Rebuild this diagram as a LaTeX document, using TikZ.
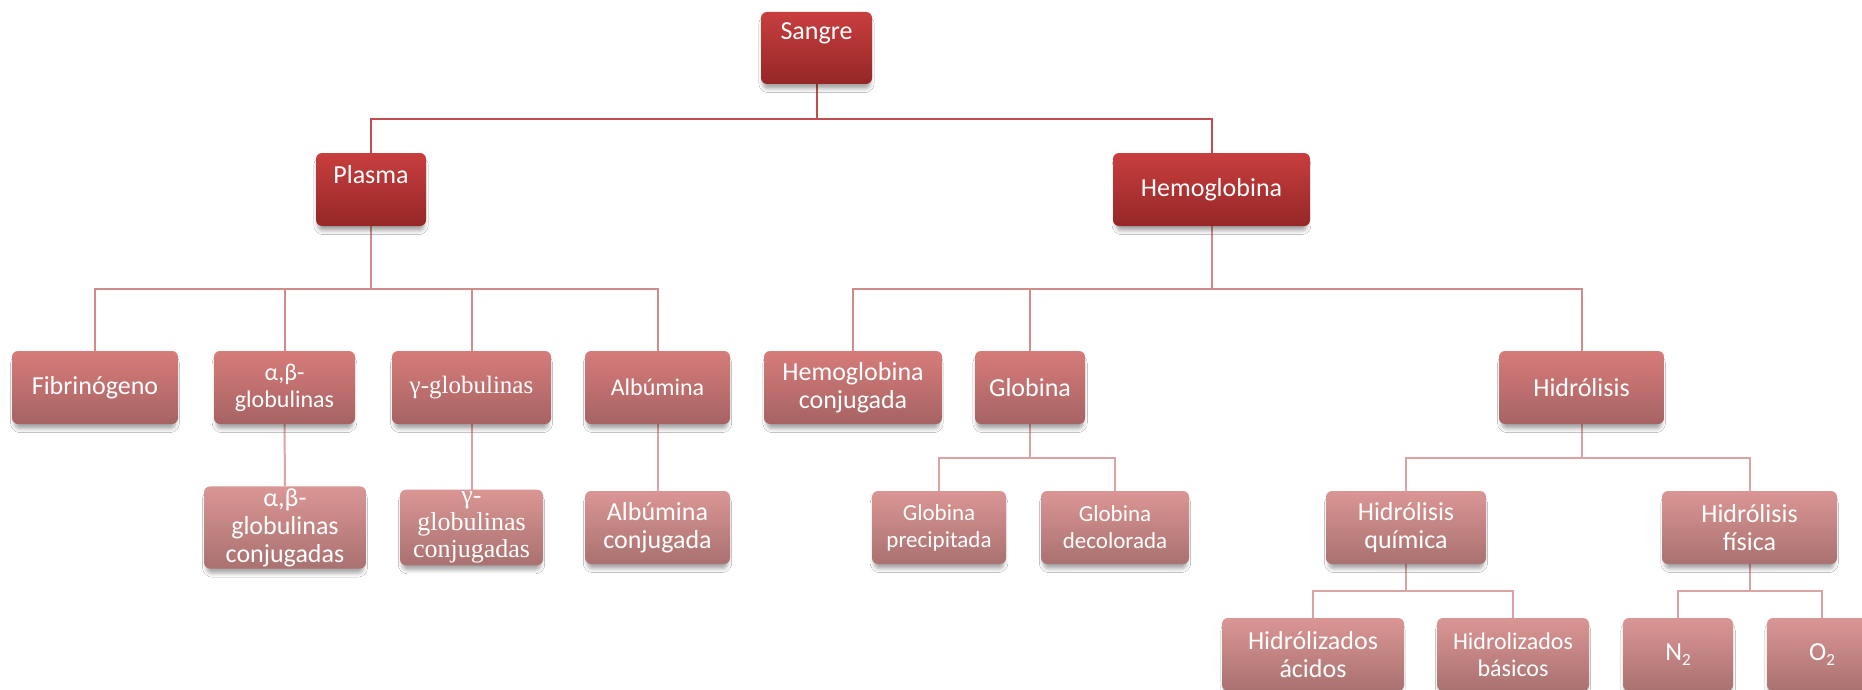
\documentclass[tikz,border=0pt]{standalone}
\usepackage{fontspec}
\setmainfont{Carlito}
\newfontfamily\tms{Liberation Serif}
\usetikzlibrary{shadows.blur}
\definecolor{aTop}{HTML}{C83E3E}
\definecolor{aBot}{HTML}{952727}
\definecolor{bTop}{HTML}{D67C7A}
\definecolor{bBot}{HTML}{A66363}
\definecolor{cTop}{HTML}{DA9694}
\definecolor{cBot}{HTML}{A97170}
\definecolor{lA}{HTML}{C0504D}
\definecolor{lB}{HTML}{D38B8A}
\definecolor{lC}{HTML}{DBA3A2}
\newcommand{\fs}[2]{\fontsize{#1}{#2}\selectfont}
\newcommand{\lowsub}[1]{\raisebox{-5pt}{\fs{17}{17}#1}}
\pgfdeclarelayer{bg}
\pgfsetlayers{bg,main}
\begin{document}
\begin{tikzpicture}[x=1pt,y=-1pt,
  box/.style={rounded corners=6pt, inner sep=2pt, align=center, text=white,
    minimum height=73pt, font=\fs{26}{28},
    blur shadow={shadow xshift=0pt, shadow yshift=-6pt, shadow scale=0.97, shadow blur radius=4pt, shadow opacity=35}},
  lv1/.style={box, top color=aTop, bottom color=aBot},
  lv3/.style={box, top color=bTop, bottom color=bBot},
  lv4/.style={box, top color=cTop, bottom color=cBot},
  lnA/.style={draw=lA, line width=2pt},
  lnB/.style={draw=lB, line width=2pt},
  lnC/.style={draw=lC, line width=2pt}]
\useasboundingbox (0,0) rectangle (1862,690);
% level 1-2
\node[lv1, minimum width=111pt, minimum height=72pt, text height=20pt, text depth=36pt] (sangre) at (816.5,48) {Sangre};
\node[lv1, minimum width=110pt, text height=20pt, text depth=33pt] (plasma) at (371,189.5) {Plasma};
\node[lv1, minimum width=197pt] (hemo) at (1211.5,189.5) {Hemoglobina};
% level 3
\node[lv3, minimum width=166pt] (fib) at (95,387.5) {Fibrinógeno};
\node[lv3, minimum width=141pt, font=\fs{24}{27}] (abg) at (284.5,387.5) {α,β-\\globulinas};
\node[lv3, minimum width=159pt, font=\tms\fs{25}{27}] (gg) at (471.5,387.5) {γ-globulinas};
\node[lv3, minimum width=145pt, font=\fs{24}{27}] (alb) at (657.5,387.5) {Albúmina};
\node[lv3, minimum width=178pt] (hc) at (853,387.5) {Hemoglobina\\conjugada};
\node[lv3, minimum width=110pt] (glob) at (1030,387.5) {Globina};
\node[lv3, minimum width=165pt] (hid) at (1581.5,387.5) {Hidrólisis};
% level 4
\node[lv4, minimum width=162pt] (abgc) at (285,527.5) {α,β-\\globulinas\\conjugadas};
\node[lv4, minimum width=143pt, font=\tms\fs{26}{27}] (ggc) at (471.5,527.5) {γ-\\globulinas\\conjugadas};
\node[lv4, minimum width=145pt] (albc) at (657.5,527.5) {Albúmina\\conjugada};
\node[lv4, minimum width=134pt, font=\fs{23}{27}] (globp) at (939,527.5) {Globina\\precipitada};
\node[lv4, minimum width=148pt, font=\fs{23}{27}] (globd) at (1115,527.5) {Globina\\decolorada};
\node[lv4, minimum width=160pt] (hq) at (1406,527.5) {Hidrólisis\\química};
\node[lv4, minimum width=175pt] (hf) at (1749.5,527.5) {Hidrólisis\\física};
% level 5
\node[lv4, minimum width=182pt] (ha) at (1313,654.5) {Hidrólizados\\ácidos};
\node[lv4, minimum width=152pt, font=\fs{24}{27}] (hb) at (1513,654.5) {Hidrolizados\\básicos};
\node[lv4, minimum width=110pt] (n2) at (1678,654.5) {N\lowsub{2}};
\node[lv4, minimum width=110pt] (o2) at (1822,654.5) {O\lowsub{2}};
% connectors
\begin{pgfonlayer}{bg}
\fill[white] (0,0) rectangle (1862,690);
\draw[lnA] (sangre.south) -- (sangre.south |- 0,119) -| (plasma.north);
\draw[lnA] (sangre.south |- 0,119) -| (hemo.north);
\foreach \c in {fib,abg,gg,alb}
  \draw[lnB] (plasma.south) -- (plasma.south |- 0,289) -| (\c.north);
\foreach \c in {hc,glob,hid}
  \draw[lnB] (hemo.south) -- (hemo.south |- 0,289) -| (\c.north);
\draw[lnC] (abg.south) -- (abgc.north);
\draw[lnC] (gg.south) -- (ggc.north);
\draw[lnC] (alb.south) -- (albc.north);
\foreach \c in {globp,globd}
  \draw[lnC] (glob.south) -- (glob.south |- 0,458) -| (\c.north);
\foreach \c in {hq,hf}
  \draw[lnC] (hid.south) -- (hid.south |- 0,458) -| (\c.north);
\foreach \c in {ha,hb}
  \draw[lnC] (hq.south) -- (hq.south |- 0,591) -| (\c.north);
\foreach \c in {n2,o2}
  \draw[lnC] (hf.south) -- (hf.south |- 0,591) -| (\c.north);
\end{pgfonlayer}
\end{tikzpicture}
\end{document}
